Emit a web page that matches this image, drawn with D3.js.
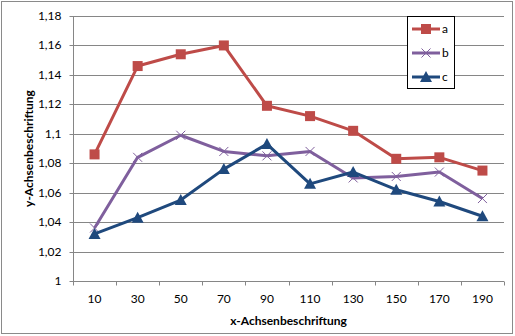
<!DOCTYPE html>
<html>
<head>
<meta charset="utf-8">
<script src="https://cdn.jsdelivr.net/npm/d3@7"></script>
<style>
  html, body { margin: 0; padding: 0; background: #fff; }
  svg { display: block; font-family: Lato, "Open Sans", sans-serif; }
</style>
</head>
<body>
<svg id="chart" width="515" height="336"></svg>
<script>
// x categories
const categories = ["10", "30", "50", "70", "90", "110", "130", "150", "170", "190"];
// series values
const seriesA = [1.086, 1.146, 1.154, 1.160, 1.119, 1.112, 1.102, 1.083, 1.084, 1.075];
const seriesB = [1.036, 1.084, 1.099, 1.088, 1.085, 1.088, 1.070, 1.071, 1.074, 1.056];
const seriesC = [1.032, 1.043, 1.055, 1.076, 1.093, 1.066, 1.074, 1.062, 1.054, 1.044];
const seriesNames = ["a", "b", "c"];
// y axis ticks and their labels
const yTicks = [1, 1.02, 1.04, 1.06, 1.08, 1.1, 1.12, 1.14, 1.16, 1.18];
const yTickLabels = ["1", "1,02", "1,04", "1,06", "1,08", "1,1", "1,12", "1,14", "1,16", "1,18"];

const svg = d3.select("#chart");
const W = 515, H = 336;
const plot = { left: 73, right: 504, top: 16, bottom: 281 };

const colors = ["#BE4B48", "#7F5F9D", "#1F497D"];
const symbols = ["square", "cross", "triangle"];

// chart border
svg.append("rect")
  .attr("x", 1.5).attr("y", 1.5)
  .attr("width", W - 4).attr("height", H - 4)
  .attr("fill", "#fff").attr("stroke", "#8a8a8a").attr("stroke-width", 1);

const x = d3.scaleBand().domain(categories).range([plot.left, plot.right]);
const y = d3.scaleLinear().domain([1, 1.18]).range([plot.bottom, plot.top]);

// horizontal grid lines
svg.append("g").selectAll("line")
  .data(yTicks.slice(1))
  .join("line")
  .attr("x1", plot.left).attr("x2", plot.right)
  .attr("y1", d => Math.round(y(d)) + 0.5).attr("y2", d => Math.round(y(d)) + 0.5)
  .attr("stroke", "#868686").attr("stroke-width", 1);

// y axis
const yAxis = d3.axisLeft(y)
  .tickValues(yTicks)
  .tickFormat((d, i) => yTickLabels[i])
  .tickSize(4).tickPadding(8);
const gy = svg.append("g")
  .attr("transform", `translate(${plot.left + 0.5},0)`)
  .call(yAxis);
gy.select(".domain").attr("stroke", "#868686").attr("d", `M0,${plot.top}V${plot.bottom}`);
gy.selectAll(".tick line").attr("stroke", "#868686");
gy.selectAll(".tick").attr("transform", d => `translate(0,${Math.round(y(d)) + 0.5})`);
gy.selectAll(".tick text").attr("font-size", 12).attr("fill", "#000")
  .attr("font-family", "Lato, sans-serif");

// x axis: labels centred in each band, tick marks on band edges
const gx = svg.append("g").attr("transform", `translate(0,${Math.round(y(1)) + 0.5})`);
gx.append("line")
  .attr("x1", plot.left).attr("x2", plot.right)
  .attr("stroke", "#868686");
const edges = categories.map(c => x(c)).concat([x.range()[1]]);
gx.selectAll("line.edge")
  .data(edges)
  .join("line").attr("class", "edge")
  .attr("x1", d => Math.round(d) + 0.5).attr("x2", d => Math.round(d) + 0.5)
  .attr("y1", 0).attr("y2", 4)
  .attr("stroke", "#868686");
gx.selectAll("text")
  .data(categories)
  .join("text")
  .attr("x", d => x(d) + x.bandwidth() / 2)
  .attr("y", 18)
  .attr("dy", "0.32em")
  .attr("text-anchor", "middle")
  .attr("font-size", 12)
  .text(d => d);

// series lines and markers
const seriesData = [seriesA, seriesB, seriesC];
const line = d3.line()
  .x((d, i) => x(categories[i]) + x.bandwidth() / 2)
  .y(d => y(d));

function drawMarker(g, kind, color, cx, cy) {
  if (kind === "square") {
    g.append("rect")
      .attr("x", cx - 5).attr("y", cy - 5)
      .attr("width", 10).attr("height", 10)
      .attr("fill", color);
  } else if (kind === "triangle") {
    g.append("path")
      .attr("d", `M${cx},${cy - 6}L${cx + 6},${cy + 5}L${cx - 6},${cy + 5}Z`)
      .attr("fill", color);
  } else {
    g.append("path")
      .attr("d", `M${cx - 4.5},${cy - 4.5}L${cx + 4.5},${cy + 4.5}M${cx + 4.5},${cy - 4.5}L${cx - 4.5},${cy + 4.5}`)
      .attr("stroke", color).attr("stroke-width", 1).attr("fill", "none");
  }
}

seriesData.forEach((vals, s) => {
  const g = svg.append("g");
  g.append("path")
    .datum(vals)
    .attr("d", line)
    .attr("fill", "none")
    .attr("stroke", colors[s])
    .attr("stroke-width", 3)
    .attr("stroke-linejoin", "round");
  vals.forEach((v, i) => {
    drawMarker(g, symbols[s], colors[s], x(categories[i]) + x.bandwidth() / 2, y(v));
  });
});

// legend
const legend = svg.append("g");
legend.append("rect")
  .attr("x", 407.5).attr("y", 16.5)
  .attr("width", 47).attr("height", 72)
  .attr("fill", "#fff").attr("stroke", "#000").attr("stroke-width", 1);
seriesNames.forEach((name, s) => {
  const ly = 29 + s * 24;
  legend.append("line")
    .attr("x1", 412).attr("x2", 440)
    .attr("y1", ly).attr("y2", ly)
    .attr("stroke", colors[s]).attr("stroke-width", 3);
  drawMarker(legend, symbols[s], colors[s], 426, ly);
  legend.append("text")
    .attr("x", 442).attr("y", ly)
    .attr("dy", "0.32em")
    .attr("font-size", 12)
    .text(name);
});

// axis titles
svg.append("text")
  .attr("x", (plot.left + plot.right) / 2)
  .attr("y", 321)
  .attr("dy", "0.32em")
  .attr("text-anchor", "middle")
  .attr("font-size", 12)
  .attr("font-weight", "bold")
  .text("x-Achsenbeschriftung");
svg.append("text")
  .attr("transform", `translate(29,${(plot.top + plot.bottom) / 2}) rotate(-90)`)
  .attr("dy", "0.32em")
  .attr("text-anchor", "middle")
  .attr("font-size", 12)
  .attr("font-weight", "bold")
  .text("y-Achsenbeschriftung");
</script>
</body>
</html>
